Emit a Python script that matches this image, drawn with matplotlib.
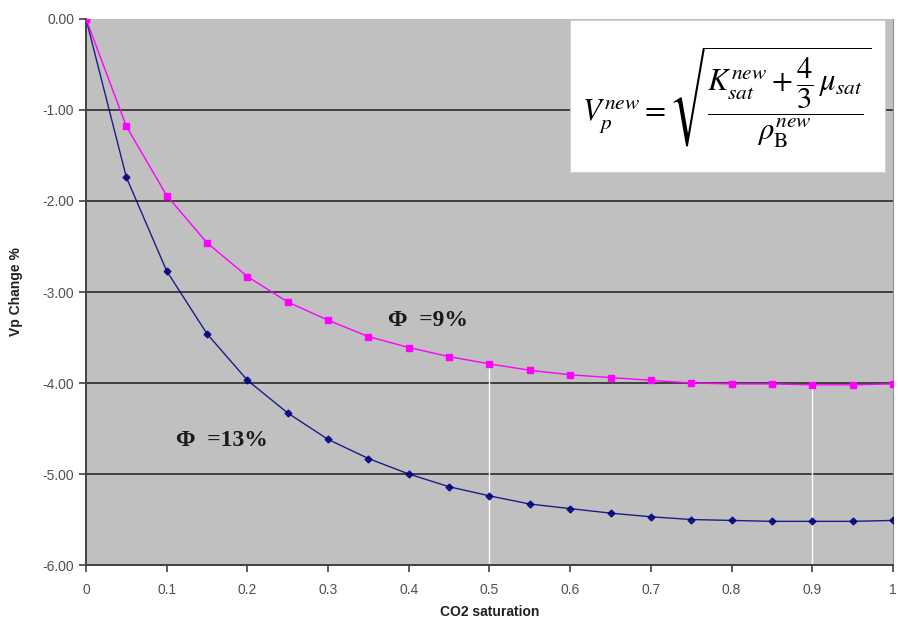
import matplotlib

matplotlib.use("Agg")
import matplotlib.pyplot as plt
from matplotlib.patches import Rectangle


# Vrednosti ocitane sa slike (CO2 saturacija i promena Vp u %).
CO2_SATURATION = [0.0, 0.05, 0.1, 0.15, 0.2, 0.25, 0.3, 0.35, 0.4, 0.45, 0.5,
                  0.55, 0.6, 0.65, 0.7, 0.75, 0.8, 0.85, 0.9, 0.95, 1.0]
VP_CHANGE_PHI_9 = [0.0, -1.18, -1.94, -2.46, -2.83, -3.11, -3.31, -3.49, -3.61,
                   -3.71, -3.79, -3.86, -3.91, -3.94, -3.97, -4.00, -4.01,
                   -4.01, -4.02, -4.02, -4.01]
VP_CHANGE_PHI_13 = [0.0, -1.74, -2.77, -3.46, -3.97, -4.33, -4.62, -4.83, -5.00,
                    -5.14, -5.24, -5.33, -5.38, -5.43, -5.47, -5.50, -5.51,
                    -5.52, -5.52, -5.52, -5.51]
DROP_LINE_X = [0.5, 0.9]
X_TICKS = [0, 0.1, 0.2, 0.3, 0.4, 0.5, 0.6, 0.7, 0.8, 0.9, 1]
X_TICK_LABELS = ["0", "0.1", "0.2", "0.3", "0.4", "0.5", "0.6", "0.7", "0.8",
                 "0.9", "1"]
Y_TICKS = [0, -1, -2, -3, -4, -5, -6]
Y_TICK_LABELS = ["0.00", "-1.00", "-2.00", "-3.00", "-4.00", "-5.00", "-6.00"]

FORMULA = (r"$V_p^{new} = \sqrt{\dfrac{K_{sat}^{new} + \dfrac{4}{3}\,\mu_{sat}}"
           r"{\rho_{\mathrm{B}}^{new}}}$")


def main():
    plt.rcParams["font.family"] = ["Liberation Sans", "DejaVu Sans"]
    plt.rcParams["mathtext.fontset"] = "stix"

    fig = plt.figure(figsize=(8.98, 6.35), dpi=100)
    axis = fig.add_axes([0.0958, 0.1102, 0.8986, 0.8599])
    axis.set_facecolor("#c0c0c0")

    # Horizontalne linije mreze.
    for value in Y_TICKS[1:-1]:
        axis.axhline(value, color="#404040", linewidth=1.4, zorder=1)

    # Bele vertikalne linije (ostatak iz originalnog grafika).
    for x_value in DROP_LINE_X:
        index = CO2_SATURATION.index(x_value)
        axis.vlines(x_value, -6, VP_CHANGE_PHI_9[index], color="white",
                    linewidth=1.0, zorder=2)

    axis.plot(CO2_SATURATION, VP_CHANGE_PHI_9, color="#ff00ff", linewidth=1.0,
              marker="s", markersize=4.5, zorder=4)
    axis.plot(CO2_SATURATION, VP_CHANGE_PHI_13, color="#000080",
              linewidth=1.0, marker="D", markersize=3.5, zorder=3,
              alpha=0.85)

    axis.set_xlim(0, 1)
    axis.set_ylim(-6, 0)
    axis.set_xticks(X_TICKS)
    axis.set_xticklabels(X_TICK_LABELS)
    axis.set_yticks(Y_TICKS)
    axis.set_yticklabels(Y_TICK_LABELS)
    axis.tick_params(axis="both", colors="#404040", labelcolor="#505050",
                     labelsize=10, length=5, width=1.2, direction="out")
    axis.tick_params(axis="x", pad=8)

    axis.spines["top"].set_visible(False)
    axis.spines["right"].set_color("#909090")
    axis.spines["left"].set_color("#404040")
    axis.spines["bottom"].set_color("#404040")
    axis.spines["left"].set_linewidth(1.4)
    axis.spines["bottom"].set_linewidth(1.4)

    axis.set_xlabel("CO2 saturation", fontsize=10, fontweight="bold",
                    color="#202020", labelpad=6)
    axis.set_ylabel("Vp Change %", fontsize=10, fontweight="bold",
                    color="#202020", labelpad=14)

    # Oznake serija.
    axis.text(0.424, -3.31, "\u03a6  =9%", fontsize=17, fontweight="bold",
              family="Liberation Serif", ha="center", va="center",
              color="#1a1a1a", zorder=5)
    axis.text(0.168, -4.63, "\u03a6  =13%", fontsize=17, fontweight="bold",
              family="Liberation Serif", ha="center", va="center",
              color="#1a1a1a", zorder=5)

    # Beli okvir sa formulom.
    box = Rectangle((570 / 898, 1 - 172 / 635), 315 / 898, 152 / 635,
                    transform=fig.transFigure, facecolor="white",
                    edgecolor="#d0d0d0", linewidth=0.8, zorder=6)
    fig.patches.append(box)
    fig.text(727 / 898, 1 - 97 / 635, FORMULA, fontsize=22, ha="center",
             va="center", color="black", zorder=7)

    fig.savefig("out.png", dpi=100, facecolor="white")
    plt.close(fig)


if __name__ == "__main__":
    main()
